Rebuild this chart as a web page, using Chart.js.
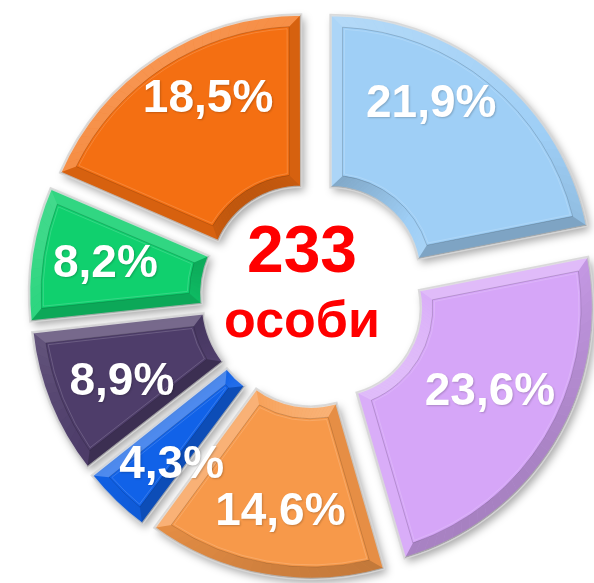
<!DOCTYPE html>
<html>
<head>
<meta charset="utf-8">
<script src="https://cdn.jsdelivr.net/npm/chart.js@4"></script>
<style>
  html, body { margin: 0; padding: 0; background: #fff; }
  #wrap { width: 594px; height: 583px; position: relative; }
</style>
</head>
<body>
<div id="wrap"><canvas id="pie"></canvas></div>
<script>
// data, clockwise from 12 o'clock
const categories = ['Група 1', 'Група 2', 'Група 3', 'Група 4', 'Група 5', 'Група 6', 'Група 7'];
const shares = [21.9, 23.6, 14.6, 4.3, 8.9, 8.2, 18.5];
const totalCount = 233;
const totalUnit = 'особи';

const colors = ['#9FCFF6', '#D6A6F8', '#F7994A', '#1162E8', '#4E3D6A', '#10D06E', '#F46F12'];
const explode = [104, 84, 72, 56, 64, 64, 92];
// small label shifts (px) so the labels sit where the original placed them
const labelNudge = [[-26, -20], [-12, -21], [5, -3], [13, 6], [14, 0], [12, -1], [17, -12]];

const FONT = "'Liberation Sans', Arial, sans-serif";
const LIGHT = { x: -0.55, y: -0.83 };

function shade(nx, ny) {
  const d = nx * LIGHT.x + ny * LIGHT.y;
  return d >= 0 ? 'rgba(255,255,255,' + (0.26 * d).toFixed(3) + ')'
                : 'rgba(0,0,0,' + (0.22 * -d).toFixed(3) + ')';
}

// same geometry the arc element uses when it draws itself
function arcGeom(a) {
  const t = (a.options.offset || 0) / 4;
  const alpha = a.endAngle - a.startAngle;
  const fix = 1 - Math.sin(Math.min(Math.PI, alpha));
  const ro = a.outerRadius + t * fix;
  const ri = a.innerRadius + t * fix;
  const beta = Math.max(0.001, alpha * ro - (t * fix) / Math.PI) / ro;
  const trim = (alpha - beta) / 2;
  const mid = (a.startAngle + a.endAngle) / 2;
  return {
    x: a.x + Math.cos(mid) * t, y: a.y + Math.sin(mid) * t,
    ro, ri, s: a.startAngle + trim, e: a.endAngle - trim, mid
  };
}

function segPath(ctx, g, d) {
  const ro = g.ro - d, ri = g.ri + d;
  ctx.beginPath();
  ctx.arc(g.x, g.y, ro, g.s + d / ro, g.e - d / ro);
  ctx.arc(g.x, g.y, ri, g.e - d / ri, g.s + d / ri, true);
  ctx.closePath();
}

function pt(g, r, a) {
  return [g.x + Math.cos(a) * r, g.y + Math.sin(a) * r];
}

function drawBevel(ctx, g, d) {
  const roI = g.ro - d, riI = g.ri + d;
  const so = g.s + d / roI, eo = g.e - d / roI;
  const si = g.s + d / riI, ei = g.e - d / riI;
  const n = Math.max(4, Math.ceil((g.e - g.s) / 0.04));
  for (let k = 0; k < n; k++) {
    const f1 = k / n, f2 = (k + 1) / n;
    const a1 = g.s + (g.e - g.s) * f1, a2 = g.s + (g.e - g.s) * f2;
    const am = (a1 + a2) / 2;
    ctx.fillStyle = shade(Math.cos(am), Math.sin(am));
    ctx.beginPath();
    ctx.arc(g.x, g.y, g.ro, a1, a2);
    ctx.arc(g.x, g.y, roI, so + (eo - so) * f2, so + (eo - so) * f1, true);
    ctx.closePath();
    ctx.fill();
    ctx.fillStyle = shade(-Math.cos(am), -Math.sin(am));
    ctx.beginPath();
    ctx.arc(g.x, g.y, g.ri, a1, a2);
    ctx.arc(g.x, g.y, riI, si + (ei - si) * f2, si + (ei - si) * f1, true);
    ctx.closePath();
    ctx.fill();
  }
  const sides = [
    [g.s, so, si, Math.sin(g.s), -Math.cos(g.s)],
    [g.e, eo, ei, -Math.sin(g.e), Math.cos(g.e)]
  ];
  sides.forEach(([a, ao, ai, nx, ny]) => {
    ctx.fillStyle = shade(nx, ny);
    ctx.beginPath();
    ctx.moveTo(...pt(g, g.ro, a));
    ctx.lineTo(...pt(g, g.ri, a));
    ctx.lineTo(...pt(g, riI, ai));
    ctx.lineTo(...pt(g, roI, ao));
    ctx.closePath();
    ctx.fill();
  });
}

const bevelPlugin = {
  id: 'bevel',
  beforeDatasetsDraw(chart) {
    const ctx = chart.ctx;
    ctx.save();
    ctx.shadowColor = 'rgba(0,0,0,0.35)';
    ctx.shadowBlur = 9;
    ctx.shadowOffsetX = 3;
    ctx.shadowOffsetY = 4;
  },
  afterDatasetsDraw(chart) {
    const ctx = chart.ctx;
    ctx.restore();
    const arcs = chart.getDatasetMeta(0).data;

    arcs.forEach(a => {
      const g = arcGeom(a);
      ctx.save();
      segPath(ctx, g, 0);
      ctx.lineWidth = 2.5;
      ctx.strokeStyle = 'rgba(215,215,215,0.9)';
      ctx.stroke();
      segPath(ctx, g, 0);
      ctx.clip();
      drawBevel(ctx, g, 12);
      segPath(ctx, g, 12);
      ctx.lineWidth = 1;
      ctx.strokeStyle = 'rgba(0,0,0,0.16)';
      ctx.stroke();
      segPath(ctx, g, 14);
      ctx.strokeStyle = 'rgba(255,255,255,0.16)';
      ctx.stroke();
      ctx.restore();
    });

    // percentage labels
    ctx.save();
    ctx.font = 'bold 46px ' + FONT;
    ctx.fillStyle = '#fff';
    ctx.textAlign = 'center';
    ctx.textBaseline = 'middle';
    ctx.shadowColor = 'rgba(0,0,0,0.2)';
    ctx.shadowBlur = 2;
    ctx.shadowOffsetX = 1;
    ctx.shadowOffsetY = 1;
    arcs.forEach((a, i) => {
      const g = arcGeom(a);
      const r = g.ri + (g.ro - g.ri) * 0.64;
      const txt = shares[i].toFixed(1).replace('.', ',') + '%';
      const [dx, dy] = labelNudge[i];
      ctx.fillText(txt, g.x + Math.cos(g.mid) * r + dx, g.y + Math.sin(g.mid) * r + 2 + dy);
    });
    ctx.restore();

    // centre text
    const c = arcs[0];
    ctx.save();
    ctx.fillStyle = '#FF0000';
    ctx.textAlign = 'center';
    ctx.textBaseline = 'alphabetic';
    ctx.font = 'bold 66px ' + FONT;
    ctx.fillText(String(totalCount), c.x - 12, c.y - 25);
    ctx.font = 'bold 52px ' + FONT;
    ctx.fillText(totalUnit, c.x - 12, c.y + 40);
    ctx.restore();
  }
};

new Chart(document.getElementById('pie'), {
  type: 'doughnut',
  data: {
    labels: categories,
    datasets: [{
      data: shares,
      backgroundColor: colors,
      borderWidth: 0,
      offset: explode,
      clip: false
    }]
  },
  options: {
    responsive: true,
    maintainAspectRatio: false,
    animation: false,
    radius: 261,
    cutout: '34%',
    layout: { padding: { left: 34, top: 10 } },
    plugins: {
      legend: { display: false },
      tooltip: { enabled: false }
    }
  },
  plugins: [bevelPlugin]
});
</script>
</body>
</html>
